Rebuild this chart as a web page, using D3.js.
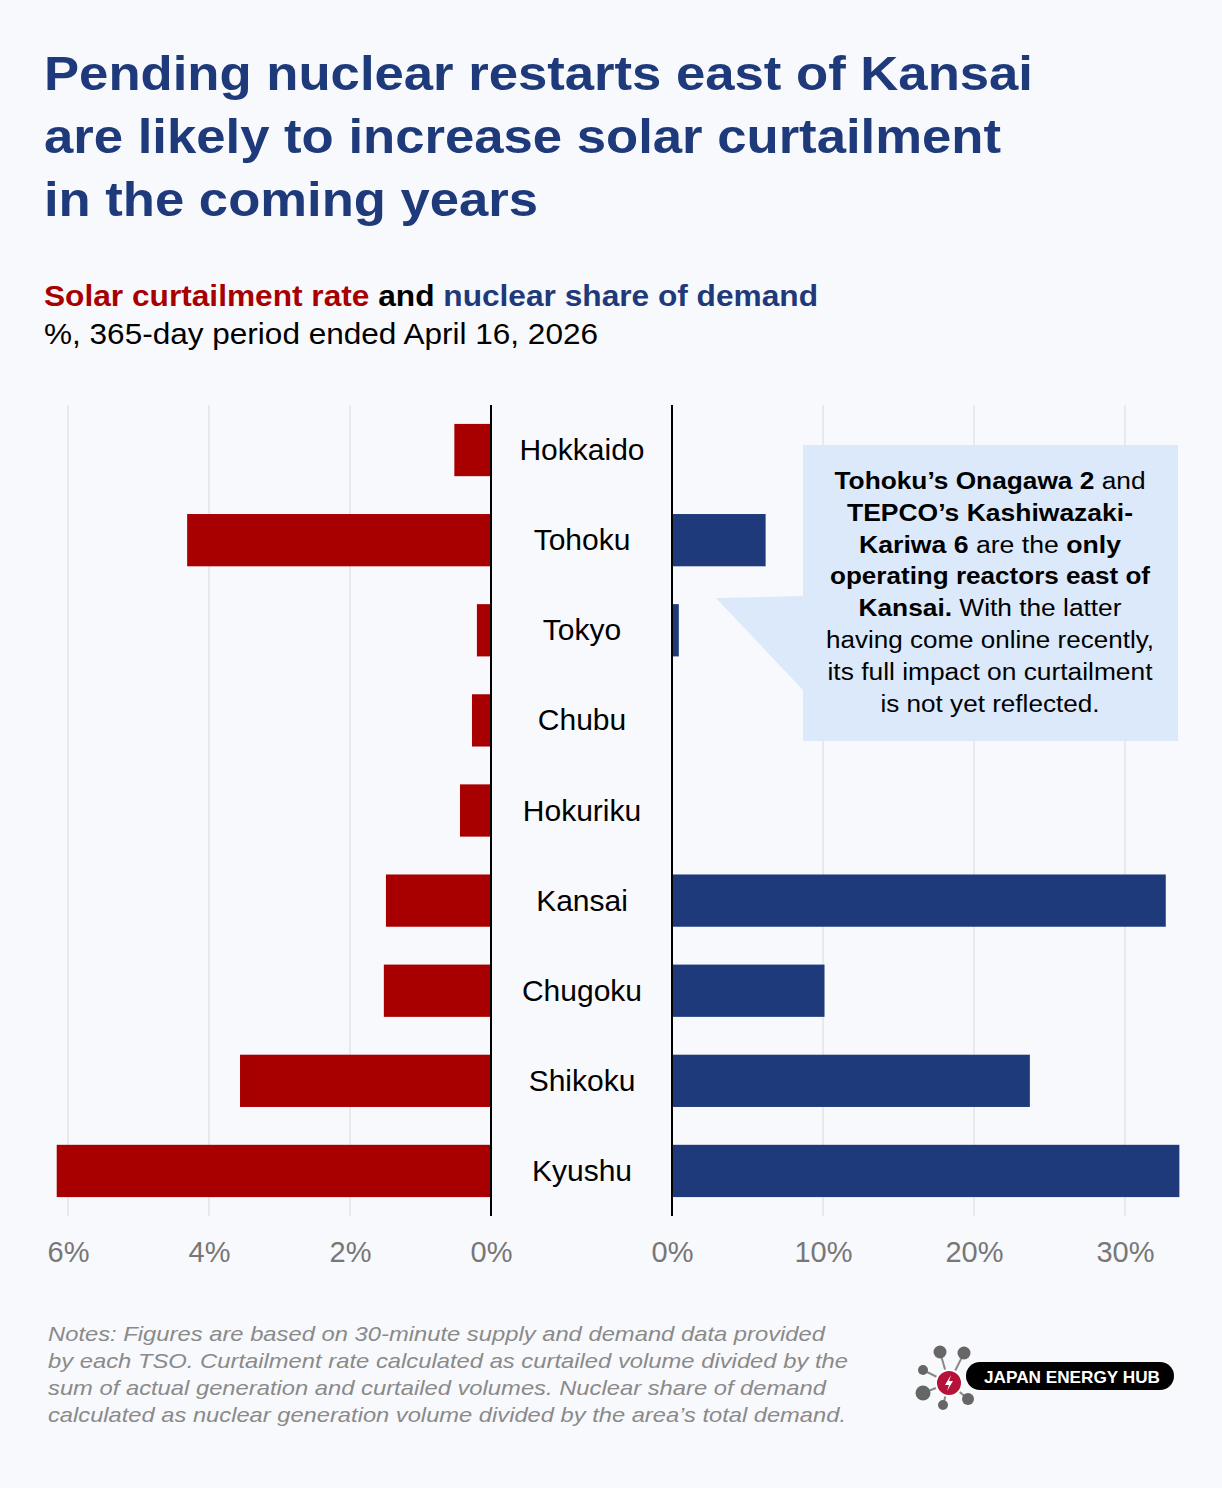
<!DOCTYPE html>
<html><head><meta charset="utf-8">
<script src="https://cdn.jsdelivr.net/npm/d3@7"></script>
<style>body{margin:0;background:#f8f9fc;font-family:"Liberation Sans",Arial,sans-serif}</style>
</head><body><svg id="c" width="1222" height="1488"></svg>
<script>
const regions=["Hokkaido","Tohoku","Tokyo","Chubu","Hokuriku","Kansai","Chugoku","Shikoku","Kyushu"];
const curtailment=[0.52,4.31,0.2,0.27,0.44,1.49,1.52,3.56,6.16];
const nuclear=[0,6.2,0.45,0,0,32.7,10.1,23.7,33.6];
const leftTicks=[6,4,2,0];
const rightTicks=[0,10,20,30];

const svg=d3.select("#c");
svg.append("rect").attr("width",1222).attr("height",1488).attr("fill","#f8f9fc");
const navy="#1e3a7b",red="#a80000";
const fit=(sel,w)=>sel.attr("textLength",w).attr("lengthAdjust","spacingAndGlyphs");
const title=["Pending nuclear restarts east of Kansai","are likely to increase solar curtailment","in the coming years"];
const titleW=[989,957,494];
title.forEach((t,i)=>fit(svg.append("text").attr("x",44).attr("y",90+i*63).attr("fill",navy)
 .attr("font-size",48).attr("font-weight","bold").text(t),titleW[i]));
const st=fit(svg.append("text").attr("x",44).attr("y",306).attr("font-size",29).attr("font-weight","bold"),774);
st.append("tspan").attr("fill",red).text("Solar curtailment rate");
st.append("tspan").attr("fill","#000").text(" and ");
st.append("tspan").attr("fill",navy).text("nuclear share of demand");
fit(svg.append("text").attr("x",44).attr("y",344).attr("font-size",29).text("%, 365-day period ended April 16, 2026"),554);

const xl=d3.scaleLinear().domain([0,6]).range([491,68]);
const xr=d3.scaleLinear().domain([0,30]).range([672,1125]);
const y=d3.scaleBand().domain(regions).range([405,1216]).paddingInner(0.42).paddingOuter(0.21);
const yTop=405,yBot=1216;
svg.append("g").selectAll("line").data(leftTicks.filter(d=>d>0)).join("line")
 .attr("x1",d=>xl(d)).attr("x2",d=>xl(d)).attr("y1",yTop).attr("y2",yBot).attr("stroke","#d9d9d9");
svg.append("g").selectAll("line").data(rightTicks.filter(d=>d>0)).join("line")
 .attr("x1",d=>xr(d)).attr("x2",d=>xr(d)).attr("y1",yTop).attr("y2",yBot).attr("stroke","#d9d9d9");
svg.append("g").selectAll("rect").data(regions).join("rect")
 .attr("x",(d,i)=>xl(curtailment[i])).attr("width",(d,i)=>xl(0)-xl(curtailment[i]))
 .attr("y",d=>y(d)).attr("height",y.bandwidth()).attr("fill",red);
svg.append("g").selectAll("rect").data(regions).join("rect")
 .attr("x",xr(0)).attr("width",(d,i)=>xr(nuclear[i])-xr(0))
 .attr("y",d=>y(d)).attr("height",y.bandwidth()).attr("fill",navy);
[xl(0),xr(0)].forEach(x=>svg.append("line").attr("x1",x).attr("x2",x).attr("y1",yTop).attr("y2",yBot).attr("stroke","#000").attr("stroke-width",2));
svg.append("g").selectAll("text").data(regions).join("text")
 .attr("x",582).attr("y",d=>y(d)+y.bandwidth()/2+10).attr("text-anchor","middle")
 .attr("font-size",30).text(d=>d);
const axL=svg.append("g").attr("transform",`translate(0,${yBot})`).call(d3.axisBottom(xl).tickValues(leftTicks).tickFormat(d=>d+"%").tickSize(0).tickPadding(25));
const axR=svg.append("g").attr("transform",`translate(0,${yBot})`).call(d3.axisBottom(xr).tickValues(rightTicks).tickFormat(d=>d+"%").tickSize(0).tickPadding(25));
[axL,axR].forEach(a=>{a.select(".domain").remove();a.selectAll("text").attr("font-size",29).attr("fill","#777").attr("font-family","Liberation Sans,Arial,sans-serif");});

svg.append("path").attr("d","M803,596 L716,598 L803,690 Z").attr("fill","#dbe9fb");
svg.append("rect").attr("x",803).attr("y",445).attr("width",375).attr("height",296).attr("fill","#dbe9fb");
const ann=[[["Tohoku’s Onagawa 2",1],[" and",0]],[["TEPCO’s Kashiwazaki-",1]],[["Kariwa 6",1],[" are the ",0],["only",1]],
 [["operating reactors east of",1]],[["Kansai.",1],[" With the latter",0]],[["having come online recently,",0]],
 [["its full impact on curtailment",0]],[["is not yet reflected.",0]]];
const annW=[311,286,262,320,263,328,325,219];
ann.forEach((line,i)=>{const t=fit(svg.append("text").attr("x",990).attr("y",489+i*31.8).attr("text-anchor","middle").attr("font-size",23),annW[i]);
 line.forEach(([s,b])=>t.append("tspan").attr("font-weight",b?"bold":"normal").text(s));});

const notes=["Notes: Figures are based on 30-minute supply and demand data provided","by each TSO. Curtailment rate calculated as curtailed volume divided by the",
"sum of actual generation and curtailed volumes. Nuclear share of demand","calculated as nuclear generation volume divided by the area’s total demand."];
const notesW=[777,800,778,798];
notes.forEach((t,i)=>fit(svg.append("text").attr("x",48).attr("y",1341+i*27).attr("font-size",21).attr("font-style","italic").attr("fill","#8a8a8a").text(t),notesW[i]));

const lg=svg.append("g");
const nodes=[[940,1352,6.5],[964,1353,6.5],[923,1370,5],[923,1393,7.5],[943,1405,5],[968,1399,6]];
nodes.forEach(([x,yy,r])=>{lg.append("line").attr("x1",949).attr("y1",1383).attr("x2",x).attr("y2",yy).attr("stroke","#888").attr("stroke-width",2);});
nodes.forEach(([x,yy,r])=>lg.append("circle").attr("cx",x).attr("cy",yy).attr("r",r).attr("fill","#666"));
lg.append("rect").attr("x",966).attr("y",1362).attr("width",208).attr("height",28).attr("rx",14).attr("fill","#000");
lg.append("circle").attr("cx",949).attr("cy",1383).attr("r",13).attr("fill","#b5123a").attr("stroke","#fff").attr("stroke-width",2);
lg.append("path").attr("d","M951,1375 L945,1385 L949,1385 L947,1391 L953,1381 L949,1381 Z").attr("fill","#fff");
fit(lg.append("text").attr("x",1072).attr("y",1383).attr("text-anchor","middle").attr("fill","#fff").attr("font-size",17).attr("font-weight","bold").text("JAPAN ENERGY HUB"),176);
</script></body></html>
